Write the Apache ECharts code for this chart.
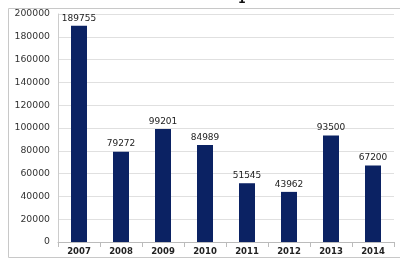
<!DOCTYPE html>
<html><head><meta charset="utf-8">
<script src="https://cdn.jsdelivr.net/npm/echarts@6/dist/echarts.min.js"></script>
<style>html,body{margin:0;padding:0;background:#fff}#c{width:400px;height:259px}</style>
</head><body><div id="c"></div>
<script>
var categories = ['2007','2008','2009','2010','2011','2012','2013','2014'];
var values = [189755, 79272, 99201, 84989, 51545, 43962, 93500, 67200];
var yTicks = [0,20000,40000,60000,80000,100000,120000,140000,160000,180000,200000];

var chart = echarts.init(document.getElementById('c'), null, {renderer:'canvas'});
chart.setOption({
  animation:false,
  grid:{left:58, right:6, top:14, bottom:17, containLabel:false},
  graphic:[
    {type:'line', shape:{x1:8.5,y1:8.5,x2:400,y2:8.5}, style:{stroke:'#c8c8c8',lineWidth:1}},
    {type:'line', shape:{x1:8.5,y1:8.5,x2:8.5,y2:257.5}, style:{stroke:'#c8c8c8',lineWidth:1}},
    {type:'line', shape:{x1:8.5,y1:257.5,x2:400,y2:257.5}, style:{stroke:'#c8c8c8',lineWidth:1}},
    {type:'text', left:238, top:-5, style:{text:'1', font:'bold 11px "DejaVu Sans"', fill:'#111'}}
  ],
  xAxis:{type:'category', data:categories,
    axisLine:{lineStyle:{color:'#bbb'}},
    axisTick:{show:true, lineStyle:{color:'#bbb'}},
    axisLabel:{color:'#222', fontSize:8.5, fontWeight:'bold', fontFamily:'DejaVu Sans', margin:5}},
  yAxis:{type:'value', min:0, max:200000, interval:20000,
    axisLine:{show:true, lineStyle:{color:'#ccc'}},
    axisTick:{show:false},
    splitLine:{lineStyle:{color:'#e0e0e0'}},
    axisLabel:{color:'#333', fontSize:9.3, fontFamily:'DejaVu Sans', margin:8,
      formatter:function(v){return yTicks.indexOf(v)>=0?String(v):'';}}},
  series:[{type:'bar', data:values, barWidth:16,
    itemStyle:{color:'#0b2263'},
    label:{show:true, position:'top', color:'#222', fontSize:9, fontFamily:'DejaVu Sans', distance:3}}]
});
</script></body></html>
